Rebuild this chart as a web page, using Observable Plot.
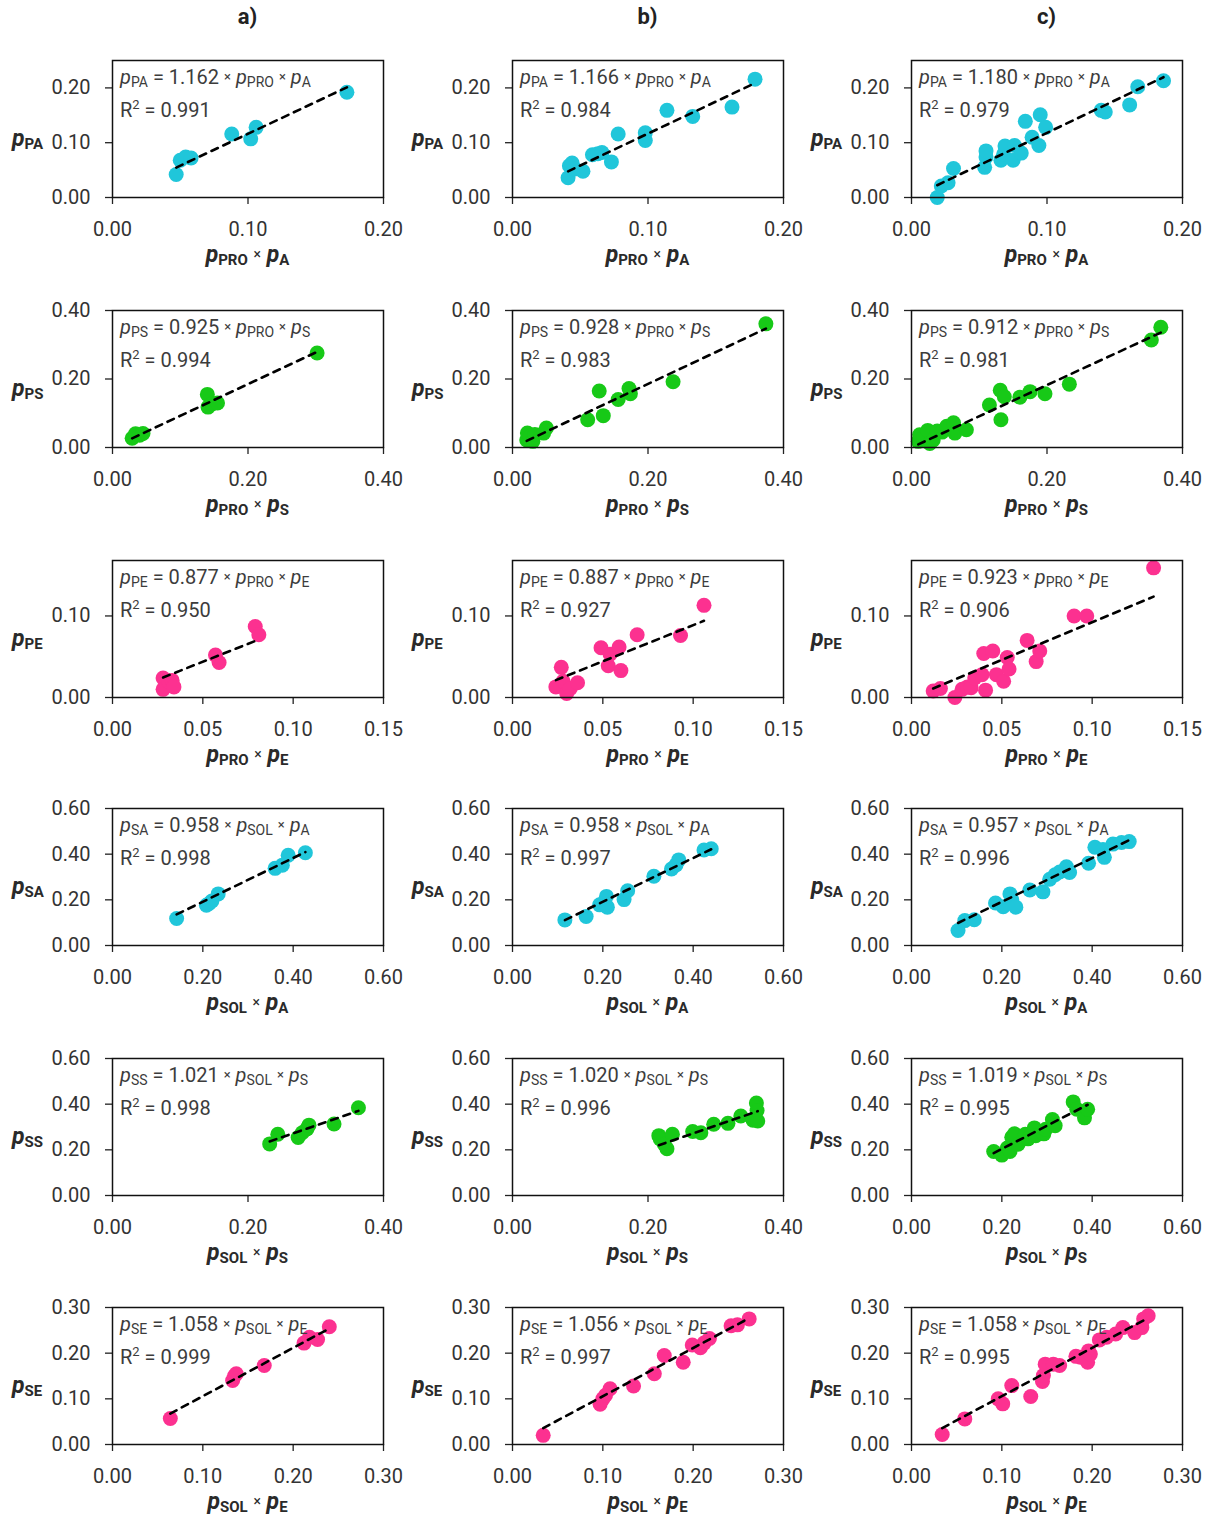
<!DOCTYPE html>
<html><head><meta charset="utf-8">
<script src="https://cdn.jsdelivr.net/npm/d3@7"></script>
<script src="https://cdn.jsdelivr.net/npm/@observablehq/plot@0.6"></script>
<style>
body{margin:0;background:#fff;}
#wrap{position:relative;width:1213px;height:1517px;font-family:Roboto,"Open Sans",sans-serif;color:#3a3a3a;overflow:hidden;}
.abs{position:absolute;white-space:nowrap;}
.ann{font-size:20px;line-height:30px;color:#3c3c3c;}
.ann sub{font-size:14px;vertical-align:-3px;line-height:0;}
.ann sup{font-size:13px;vertical-align:8px;line-height:0;}
.mul{font-size:13px;position:relative;top:-3px;}
.ylab{font-size:23px;font-weight:700;color:#2a2a2a;line-height:23px;}
.ylab sub,.xlab sub{font-size:15px;vertical-align:-3px;line-height:0;font-weight:700;}
.xlab{font-size:23px;font-weight:700;color:#2a2a2a;line-height:23px;transform:translateX(-50%);}
.xlab .mul{font-weight:400;font-size:14px;}
.title{font-size:22px;font-weight:700;color:#222;transform:translateX(-50%);line-height:22px;}
</style></head>
<body><div id="wrap"></div>
<script>
// ---- data: x = p_PRO/p_SOL × p_X , y = observed pair probability ----
const PA_a_x = [0.047,0.050,0.054,0.058,0.088,0.102,0.106,0.173];
const PA_a_y = [0.042,0.068,0.074,0.072,0.116,0.107,0.128,0.192];
const PA_b_x = [0.041,0.042,0.044,0.046,0.052,0.059,0.063,0.066,0.073,0.078,0.098,0.098,0.114,0.133,0.162,0.179];
const PA_b_y = [0.036,0.058,0.063,0.052,0.048,0.078,0.080,0.082,0.065,0.116,0.104,0.118,0.159,0.148,0.165,0.216];
const PA_c_x = [0.019,0.022,0.027,0.031,0.054,0.055,0.055,0.066,0.068,0.069,0.075,0.076,0.081,0.084,0.089,0.094,0.095,0.099,0.140,0.143,0.161,0.167,0.186];
const PA_c_y = [0.000,0.021,0.027,0.053,0.055,0.074,0.085,0.068,0.079,0.094,0.068,0.095,0.081,0.139,0.110,0.095,0.151,0.128,0.159,0.156,0.169,0.202,0.213];

const PS_a_x = [0.029,0.034,0.040,0.045,0.140,0.141,0.147,0.155,0.302];
const PS_a_y = [0.027,0.040,0.036,0.041,0.155,0.118,0.127,0.130,0.276];
const PS_b_x = [0.021,0.022,0.026,0.030,0.033,0.046,0.050,0.111,0.128,0.134,0.156,0.172,0.174,0.237,0.374];
const PS_b_y = [0.022,0.042,0.032,0.018,0.038,0.042,0.057,0.081,0.165,0.093,0.140,0.172,0.157,0.192,0.361];
const PS_c_x = [0.010,0.012,0.018,0.024,0.027,0.032,0.038,0.045,0.052,0.062,0.064,0.081,0.115,0.131,0.132,0.137,0.160,0.175,0.197,0.233,0.354,0.368];
const PS_c_y = [0.018,0.037,0.028,0.050,0.012,0.022,0.048,0.045,0.062,0.072,0.042,0.052,0.124,0.167,0.081,0.148,0.147,0.163,0.157,0.185,0.314,0.351];

const PE_a_x = [0.028,0.028,0.031,0.033,0.034,0.057,0.059,0.079,0.081];
const PE_a_y = [0.024,0.010,0.020,0.021,0.013,0.052,0.043,0.087,0.077];
const PE_b_x = [0.024,0.027,0.028,0.030,0.032,0.036,0.049,0.053,0.054,0.059,0.060,0.069,0.093,0.106];
const PE_b_y = [0.013,0.037,0.020,0.005,0.011,0.018,0.061,0.039,0.053,0.062,0.033,0.077,0.076,0.113];
const PE_c_x = [0.012,0.016,0.024,0.028,0.031,0.033,0.035,0.039,0.040,0.041,0.045,0.047,0.051,0.053,0.054,0.064,0.069,0.071,0.090,0.097,0.134];
const PE_c_y = [0.008,0.011,0.000,0.010,0.013,0.012,0.024,0.028,0.054,0.009,0.057,0.028,0.020,0.049,0.035,0.070,0.044,0.057,0.100,0.100,0.159];

const SA_a_x = [0.142,0.208,0.214,0.220,0.234,0.360,0.376,0.389,0.427];
const SA_a_y = [0.118,0.176,0.184,0.195,0.226,0.338,0.352,0.395,0.406];
const SA_b_x = [0.116,0.163,0.193,0.203,0.208,0.210,0.247,0.255,0.313,0.352,0.362,0.368,0.424,0.440];
const SA_b_y = [0.112,0.127,0.178,0.188,0.215,0.168,0.201,0.240,0.303,0.335,0.353,0.375,0.418,0.424];
const SA_c_x = [0.103,0.118,0.139,0.186,0.203,0.218,0.222,0.231,0.262,0.291,0.306,0.318,0.328,0.343,0.350,0.392,0.406,0.424,0.427,0.446,0.465,0.482];
const SA_c_y = [0.066,0.109,0.113,0.186,0.170,0.226,0.200,0.168,0.243,0.235,0.290,0.310,0.322,0.345,0.320,0.360,0.430,0.420,0.386,0.444,0.451,0.455];

const SS_a_x = [0.232,0.244,0.274,0.280,0.287,0.290,0.327,0.363];
const SS_a_y = [0.226,0.268,0.254,0.275,0.292,0.308,0.313,0.384];
const SS_b_x = [0.216,0.218,0.224,0.228,0.236,0.266,0.278,0.297,0.318,0.337,0.355,0.360,0.361,0.362];
const SS_b_y = [0.262,0.248,0.225,0.205,0.268,0.280,0.275,0.312,0.316,0.348,0.330,0.405,0.372,0.326];
const SS_c_x = [0.182,0.200,0.212,0.218,0.222,0.228,0.236,0.252,0.258,0.272,0.275,0.293,0.297,0.312,0.318,0.358,0.366,0.383,0.390];
const SS_c_y = [0.193,0.177,0.208,0.193,0.255,0.270,0.225,0.268,0.248,0.296,0.262,0.270,0.290,0.333,0.306,0.410,0.378,0.340,0.378];

const SE_a_x = [0.064,0.133,0.135,0.137,0.168,0.212,0.218,0.227,0.240];
const SE_a_y = [0.057,0.140,0.150,0.155,0.173,0.222,0.235,0.230,0.258];
const SE_b_x = [0.034,0.097,0.100,0.103,0.108,0.134,0.157,0.168,0.189,0.199,0.208,0.212,0.218,0.242,0.249,0.262];
const SE_b_y = [0.020,0.088,0.100,0.108,0.122,0.128,0.155,0.195,0.180,0.218,0.212,0.222,0.232,0.260,0.262,0.275];
const SE_c_x = [0.034,0.059,0.096,0.101,0.111,0.132,0.145,0.146,0.148,0.157,0.164,0.182,0.187,0.195,0.196,0.198,0.208,0.216,0.226,0.234,0.247,0.255,0.257,0.262];
const SE_c_y = [0.022,0.056,0.100,0.089,0.129,0.105,0.138,0.151,0.176,0.176,0.173,0.193,0.191,0.180,0.205,0.198,0.229,0.235,0.242,0.256,0.245,0.256,0.275,0.282];

// slopes and R² (columns a, b, c)
const slopePA = [1.162,1.166,1.180], r2PA = ["0.991","0.984","0.979"];
const slopePS = [0.925,0.928,0.912], r2PS = ["0.994","0.983","0.981"];
const slopePE = [0.877,0.887,0.923], r2PE = ["0.950","0.927","0.906"];
const slopeSA = [0.958,0.958,0.957], r2SA = ["0.998","0.997","0.996"];
const slopeSS = [1.021,1.020,1.019], r2SS = ["0.998","0.996","0.995"];
const slopeSE = [1.058,1.056,1.058], r2SE = ["0.999","0.997","0.995"];

// tick values
const ticks020 = [0,0.1,0.2];
const ticks040 = [0,0.2,0.4];
const ticks015 = [0,0.05,0.1,0.15];
const ticksPE_y = [0,0.1];
const ticks060 = [0,0.2,0.4,0.6];
const ticks030 = [0,0.1,0.2,0.3];
const columnTitles = ["a)","b)","c)"];

const cyan = "#20c6da", green = "#17c917", pink = "#fc3190";

const rowsSpec = [
  {key:"PA", pre:"PRO", post:"A", color:cyan,  xs:[PA_a_x,PA_b_x,PA_c_x], ys:[PA_a_y,PA_b_y,PA_c_y], slope:slopePA, r2:r2PA, xd:[[0,0.2],[0,0.2],[0,0.2]], yd:[0,0.25], xt:[ticks020,ticks020,ticks020], yt:ticks020},
  {key:"PS", pre:"PRO", post:"S", color:green, xs:[PS_a_x,PS_b_x,PS_c_x], ys:[PS_a_y,PS_b_y,PS_c_y], slope:slopePS, r2:r2PS, xd:[[0,0.4],[0,0.4],[0,0.4]], yd:[0,0.4], xt:[ticks040,ticks040,ticks040], yt:ticks040},
  {key:"PE", pre:"PRO", post:"E", color:pink,  xs:[PE_a_x,PE_b_x,PE_c_x], ys:[PE_a_y,PE_b_y,PE_c_y], slope:slopePE, r2:r2PE, xd:[[0,0.15],[0,0.15],[0,0.15]], yd:[0,0.168], xt:[ticks015,ticks015,ticks015], yt:ticksPE_y},
  {key:"SA", pre:"SOL", post:"A", color:cyan,  xs:[SA_a_x,SA_b_x,SA_c_x], ys:[SA_a_y,SA_b_y,SA_c_y], slope:slopeSA, r2:r2SA, xd:[[0,0.6],[0,0.6],[0,0.6]], yd:[0,0.6], xt:[ticks060,ticks060,ticks060], yt:ticks060},
  {key:"SS", pre:"SOL", post:"S", color:green, xs:[SS_a_x,SS_b_x,SS_c_x], ys:[SS_a_y,SS_b_y,SS_c_y], slope:slopeSS, r2:r2SS, xd:[[0,0.4],[0,0.4],[0,0.6]], yd:[0,0.6], xt:[ticks040,ticks040,ticks060], yt:ticks060},
  {key:"SE", pre:"SOL", post:"E", color:pink,  xs:[SE_a_x,SE_b_x,SE_c_x], ys:[SE_a_y,SE_b_y,SE_c_y], slope:slopeSE, r2:r2SE, xd:[[0,0.3],[0,0.3],[0,0.3]], yd:[0,0.3], xt:[ticks030,ticks030,ticks030], yt:ticks030}
];

const frameLefts = [112, 512, 911];
const frameTops = [60, 310, 560, 808, 1058, 1307];
const FW = 271, FH = 137;
const ML = 112, MT = 40, W = 400, H = 250;

const wrap = document.getElementById("wrap");
const fmt = d3.format(".2f");
function addHTML(cls, html, left, top) {
  const d = document.createElement("div");
  d.className = "abs " + cls;
  d.innerHTML = html;
  d.style.left = left + "px";
  d.style.top = top + "px";
  wrap.appendChild(d);
  return d;
}

columnTitles.forEach((t, c) => addHTML("title", t, frameLefts[c] + FW / 2, 6));

rowsSpec.forEach((R, r) => {
  for (let c = 0; c < 3; c++) {
    const xs = R.xs[c], ys = R.ys[c];
    const pts = xs.map((x, i) => ({x, y: ys[i]}));
    const x0 = d3.min(xs), x1 = d3.max(xs);
    const fit = [{x: x0, y: R.slope[c] * x0}, {x: x1, y: R.slope[c] * x1}];
    const chart = Plot.plot({
      width: W, height: H,
      marginLeft: ML, marginTop: MT, marginRight: W - ML - FW, marginBottom: H - MT - FH,
      style: {fontFamily: "Roboto, sans-serif", fontSize: "20px", color: "#333", background: "transparent", overflow: "visible"},
      x: {domain: R.xd[c]},
      y: {domain: R.yd},
      marks: [
        Plot.axisX({ticks: R.xt[c], tickFormat: fmt, tickSize: 7, tickPadding: 17, label: null, fontSize: 20, stroke: "#222", strokeWidth: 1.3}),
        Plot.axisY({ticks: R.yt, tickFormat: fmt, tickSize: 7, tickPadding: 15, label: null, fontSize: 20, stroke: "#222", strokeWidth: 1.3}),
        Plot.dot(pts, {x: "x", y: "y", r: 7.5, fill: R.color, stroke: "none"}),
        Plot.line(fit, {x: "x", y: "y", stroke: "#000", strokeWidth: 2.6, strokeDasharray: "7,6"}),
        Plot.frame({stroke: "#111", strokeWidth: 1.5})
      ]
    });
    chart.style.position = "absolute";
    chart.style.left = (frameLefts[c] - ML) + "px";
    chart.style.top = (frameTops[r] - MT) + "px";
    wrap.appendChild(chart);

    const fl = frameLefts[c], ft = frameTops[r];
    // annotation
    addHTML("ann",
      `<i>p</i><sub>${R.key}</sub> = ${R.slope[c].toFixed(3)} <span class="mul">×</span> <i>p</i><sub>${R.pre}</sub> <span class="mul">×</span> <i>p</i><sub>${R.post}</sub><br>R<sup>2</sup> = ${R.r2[c]}`,
      fl + 8, ft + 2);
    // y label
    addHTML("ylab", `<i>p</i><sub>${R.key}</sub>`, fl - 100, ft + 67);
    // x label
    addHTML("xlab", `<i>p</i><sub>${R.pre}</sub> <span class="mul">×</span> <i>p</i><sub>${R.post}</sub>`, fl + FW / 2, ft + FH + 46);
  }
});
</script></body></html>
